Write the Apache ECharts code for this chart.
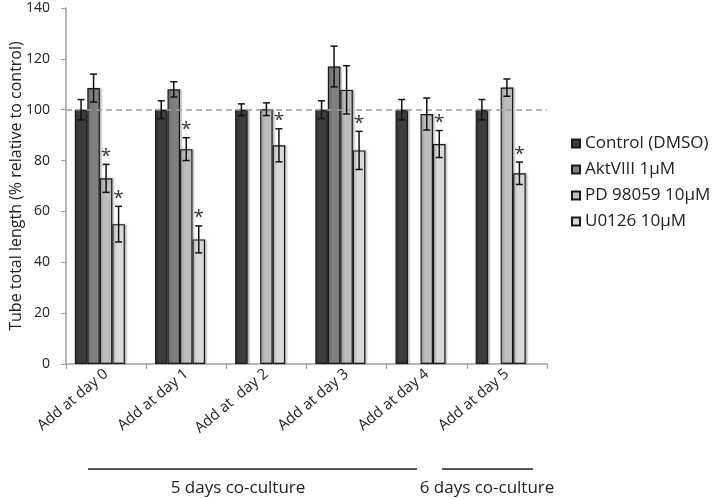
<!DOCTYPE html>
<html>
<head>
<meta charset="utf-8">
<script src="https://cdn.jsdelivr.net/npm/echarts@6/dist/echarts.min.js"></script>
<style>html,body{margin:0;padding:0;background:#fff;}#main{width:712px;height:499px;}</style>
</head>
<body>
<div id="main"></div>
<script>
var categories = ['Add at day 0', 'Add at day 1', 'Add at  day 2', 'Add at day 3', 'Add at day 4', 'Add at day 5'];
var seriesNames = ['Control (DMSO)', 'AktVIII 1\u00b5M', 'PD 98059 10\u00b5M', 'U0126 10\u00b5M'];
var control = [100, 100, 100, 100, 100, 100];
var controlErr = [4, 3.5, 2.3, 3.5, 4, 4];
var akt = [108.5, 108, null, 117, null, null];
var aktErr = [5.5, 3, null, 8, null, null];
var pd = [73, 84.5, 100.2, 107.8, 98.3, 108.7];
var pdErr = [5.5, 4.5, 2.5, 9.5, 6.3, 3.4];
var u0126 = [55, 49, 86, 84, 86.5, 75];
var u0126Err = [7, 5.3, 6.5, 7.5, 5.3, 4.4];
var pdStar = [1, 1, 0, 0, 0, 0];
var u0126Star = [1, 1, 1, 1, 1, 1];
var yTicks = [0, 20, 40, 60, 80, 100, 120, 140];
var referenceLine = 100;

var colors = ['#3d3d3d', '#7f7f7f', '#bdbdbd', '#dadada'];
var values = [control, akt, pd, u0126];
var errs = [controlErr, aktErr, pdErr, u0126Err];
var stars = [[0,0,0,0,0,0], [0,0,0,0,0,0], pdStar, u0126Star];
var GAP = 0.22, NSLOT = 5;

var barSeries = values.map(function (vals, k) {
  var s = {
    name: seriesNames[k],
    type: 'bar',
    data: vals,
    barGap: '0%',
    barCategoryGap: (GAP * 100) + '%',
    itemStyle: { color: colors[k], borderColor: '#1a1a1a', borderWidth: 1.2,
      shadowColor: 'rgba(0,0,0,0.25)', shadowBlur: 2, shadowOffsetX: 1.5, shadowOffsetY: 0 },
    emphasis: { disabled: true },
    z: 2
  };
  if (k === 0) {
    s.markLine = {
      silent: true, symbol: 'none', label: { show: false },
      lineStyle: { color: '#9a9a9a', type: [6, 4], width: 1.5 },
      data: [{ yAxis: referenceLine }]
    };
  }
  return s;
});
// empty fifth slot, as in the original layout
barSeries.push({ name: '_empty', type: 'bar', data: categories.map(function(){return null;}), barGap: '0%', barCategoryGap: (GAP*100)+'%' });

var errData = [];
values.forEach(function (vals, k) {
  vals.forEach(function (v, i) {
    if (v != null) errData.push([i, k, v, errs[k][i], stars[k][i]]);
  });
});

barSeries.push({
  type: 'custom',
  data: errData,
  encode: { x: 0, y: 2 },
  z: 5,
  silent: true,
  renderItem: function (params, api) {
    var cat = api.value(0), k = api.value(1), v = api.value(2), e = api.value(3), st = api.value(4);
    var c = api.coord([cat, v]);
    var band = api.size([1, 0])[0];
    var used = band * (1 - GAP);
    var bw = used / NSLOT;
    var x = c[0] - used / 2 + (k + 0.5) * bw;
    var yT = api.coord([cat, v + e])[1];
    var yB = api.coord([cat, v - e])[1];
    var cap = 3.5;
    var st1 = { stroke: '#111', lineWidth: 1.5 };
    var children = [
      { type: 'line', shape: { x1: x, y1: yT, x2: x, y2: yB }, style: st1 },
      { type: 'line', shape: { x1: x - cap, y1: yT, x2: x + cap, y2: yT }, style: st1 },
      { type: 'line', shape: { x1: x - cap, y1: yB, x2: x + cap, y2: yB }, style: st1 }
    ];
    if (st) {
      children.push({ type: 'text', style: { text: '*', x: x, y: yT - 8, align: 'center', verticalAlign: 'middle',
        font: '19px "Open Sans"', fill: '#333' } });
    }
    return { type: 'group', children: children };
  }
});

var chart = echarts.init(document.getElementById('main'), null, { renderer: 'canvas' });
chart.setOption({
  animation: false,
  backgroundColor: '#fff',
  textStyle: { fontFamily: '"Open Sans", sans-serif' },
  grid: { left: 66, right: 165, top: 8, bottom: 135, containLabel: false, outerBoundsMode: 'none' },
  legend: {
    data: seriesNames,
    orient: 'vertical',
    left: 566, top: 130,
    itemWidth: 8, itemHeight: 8, itemGap: 9,
    icon: 'rect',
    textStyle: { fontSize: 17, color: '#222', fontFamily: '"Open Sans"' }
  },
  xAxis: {
    type: 'category',
    data: categories,
    axisLine: { lineStyle: { color: '#a0a0a0', width: 1.5 } },
    axisTick: { show: true, length: 5, lineStyle: { color: '#a0a0a0' } },
    axisLabel: { rotate: 40, fontSize: 15, color: '#222', margin: 8, interval: 0 }
  },
  yAxis: {
    type: 'value',
    min: yTicks[0], max: yTicks[yTicks.length - 1], interval: 20,
    name: 'Tube total length (% relative to control)',
    nameLocation: 'middle', nameGap: 42, nameMoveOverlap: false,
    nameTextStyle: { fontSize: 16, color: '#222' },
    axisLine: { show: true, lineStyle: { color: '#a0a0a0', width: 1.5 } },
    axisTick: { show: true, length: 5, lineStyle: { color: '#a0a0a0' } },
    splitLine: { show: false },
    axisLabel: { fontSize: 14, color: '#222', margin: 16 }
  },
  graphic: [
    { type: 'line', shape: { x1: 88, y1: 469, x2: 417, y2: 469 }, style: { stroke: '#222', lineWidth: 1.3 } },
    { type: 'line', shape: { x1: 442, y1: 469, x2: 533, y2: 469 }, style: { stroke: '#222', lineWidth: 1.3 } },
    { type: 'text', style: { text: '5 days co-culture', x: 238, y: 488, align: 'center', verticalAlign: 'middle', font: '17px "Open Sans"', fill: '#222' } },
    { type: 'text', style: { text: '6 days co-culture', x: 487, y: 488, align: 'center', verticalAlign: 'middle', font: '17px "Open Sans"', fill: '#222' } }
  ],
  series: barSeries
});
</script>
</body>
</html>
